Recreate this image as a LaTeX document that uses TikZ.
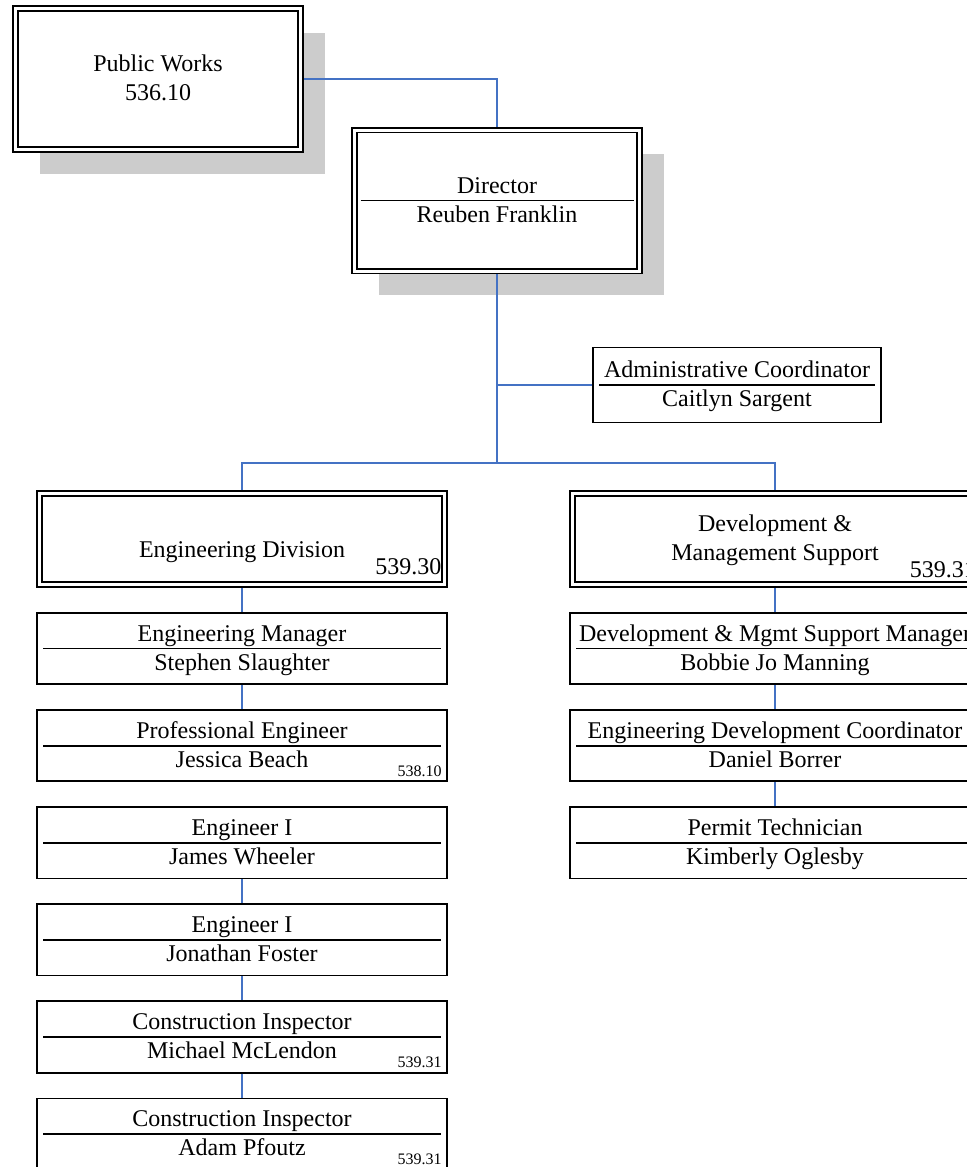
\documentclass[tikz,border=0pt]{standalone}
\usepackage{fontspec}
\setmainfont{Liberation Serif}
\usetikzlibrary{positioning, shadows}
\definecolor{linkblue}{HTML}{4472C4}
\definecolor{shadegray}{HTML}{CCCCCC}
\newcommand{\rowstrut}{\rule[-3.75pt]{0pt}{14.5pt}}
\newcommand{\duo}[2]{\rowstrut#1\\\rowstrut#2}

\begin{document}
\begin{tikzpicture}[x=0.5pt, y=-0.5pt, node distance=12pt,
    font=\fontsize{12pt}{14.5pt}\selectfont,
    divider/.style={path picture={\draw[line width=0.9pt]
        ([xshift=3pt]path picture bounding box.west) -- ([xshift=-3pt]path picture bounding box.east);}},
    unit/.style={draw, double, double distance=1.5pt, line width=0.9pt, outer sep=1.65pt,
        fill=white, align=center},
    shadowed/.style={drop shadow={shadow xshift=12pt, shadow yshift=-12pt, fill=shadegray, opacity=1}},
    post/.style={draw, line width=0.9pt, fill=white, align=center,
        minimum width=205pt, minimum height=35.5pt, divider},
    acct/.style={inner sep=0pt, anchor=base east},
    acctsmall/.style={acct, font=\fontsize{8pt}{9.6pt}\selectfont},
    link/.style={draw=linkblue, line width=0.9pt}]
    \useasboundingbox (0,0) rectangle (967,1167);

    \node[unit, shadowed, minimum width=142.5pt, minimum height=70.5pt] (works) at (158,79) {\duo{Public Works}{536.10}};
    \node[unit, shadowed, divider, minimum width=142.5pt, minimum height=70.5pt] (director) at (497,200.5) {\duo{Director}{Reuben Franklin}};
    \node[post, minimum width=144pt, minimum height=37.5pt] (admin) at (737,385) {\duo{Administrative Coordinator}{Caitlyn Sargent}};
    \coordinate (fork) at (497,463);

    \node[unit, minimum width=202.5pt, minimum height=45.5pt, text height=18pt, text depth=0pt] (engdiv) at (242,539) {Engineering Division};
    \node[acct] (engdivno) at ([shift={(-3pt,6.5pt)}]engdiv.south east) {539.30};
    \node[unit, minimum width=202.5pt, minimum height=45.5pt] (devsup) at (775,539) {\duo{Development \&}{Management Support}};
    \node[acct] (devsupno) at ([shift={(-2.25pt,5pt)}]devsup.south east) {539.31};

    \node[post] (engmgr) at (242,648.5) {\duo{Engineering Manager}{Stephen Slaughter}};
    \node[post, below=of engmgr] (profeng) {\duo{Professional Engineer}{Jessica Beach}};
    \node[post, below=of profeng] (wheeler) {\duo{Engineer I}{James Wheeler}};
    \node[post, below=of wheeler] (foster) {\duo{Engineer I}{Jonathan Foster}};
    \node[post, below=of foster] (mclendon) {\duo{Construction Inspector}{Michael McLendon}};
    \node[post, below=of mclendon] (pfoutz) {\duo{Construction Inspector}{Adam Pfoutz}};
    \node[acctsmall] (profengno) at ([shift={(-3pt,3pt)}]profeng.south east) {538.10};
    \node[acctsmall] (mclendonno) at ([shift={(-3pt,3pt)}]mclendon.south east) {539.31};
    \node[acctsmall] (pfoutzno) at ([shift={(-3pt,3pt)}]pfoutz.south east) {539.31};

    \node[post] (devmgr) at (775,648.5) {\duo{Development \& Mgmt Support Manager}{Bobbie Jo Manning}};
    \node[post, below=of devmgr] (devcoord) {\duo{Engineering Development Coordinator}{Daniel Borrer}};
    \node[post, below=of devcoord] (permit) {\duo{Permit Technician}{Kimberly Oglesby}};

    \draw[link] (works.east) -| (director.north);
    \draw[link] (director.south) -- (fork);
    \draw[link] (admin.west) -- (admin.west -| director.south);
    \draw[link] (engdiv.north) |- (fork) -| (devsup.north);
    \draw[link] (engdiv) -- (engmgr);
    \draw[link] (engmgr) -- (profeng);
    \draw[link] (wheeler) -- (foster);
    \draw[link] (foster) -- (mclendon);
    \draw[link] (mclendon) -- (pfoutz);
    \draw[link] (devsup) -- (devmgr);
    \draw[link] (devmgr) -- (devcoord);
    \draw[link] (devcoord) -- (permit);
\end{tikzpicture}
\end{document}
